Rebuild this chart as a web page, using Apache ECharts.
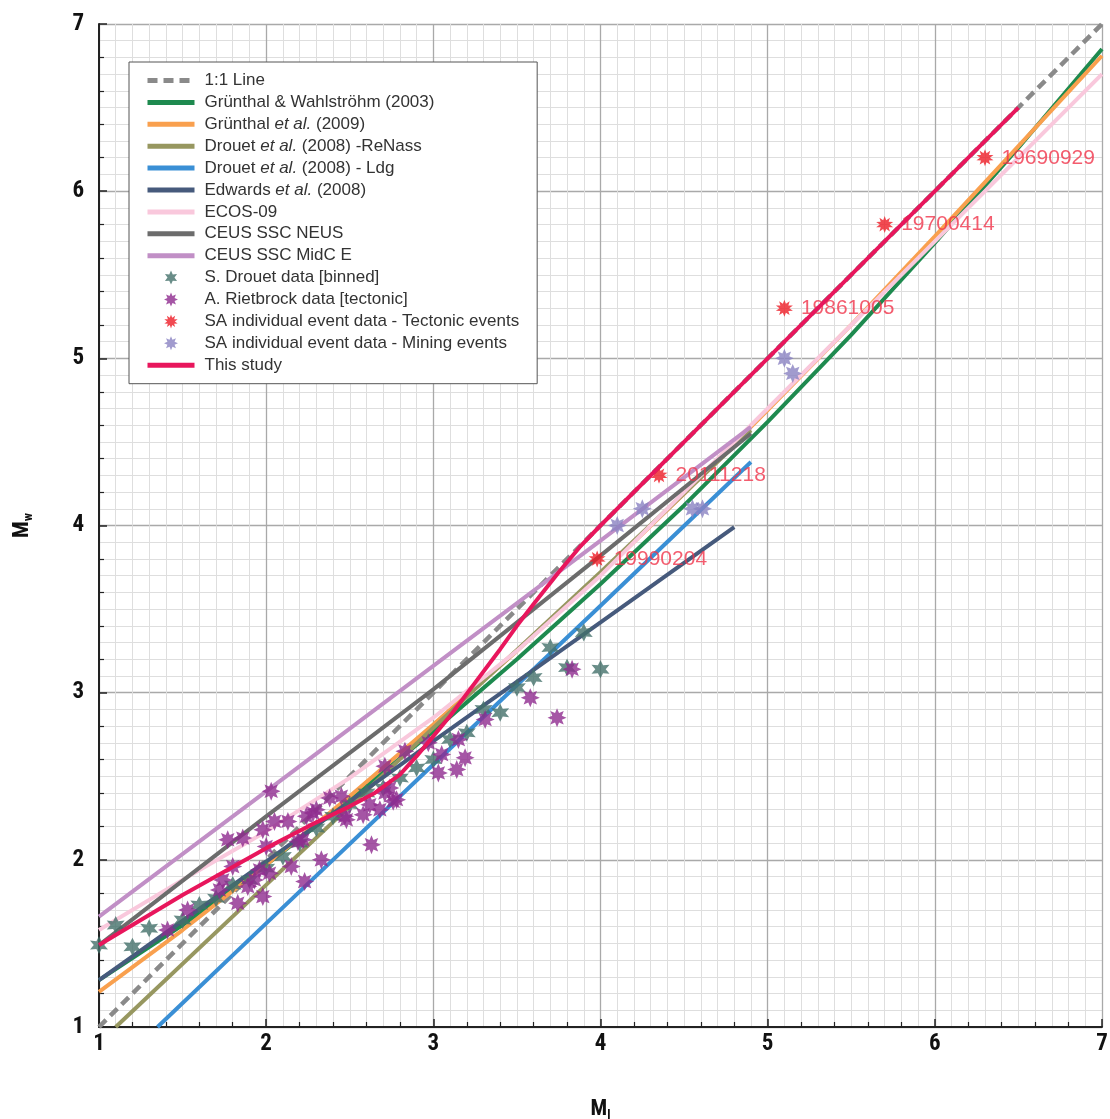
<!DOCTYPE html>
<html>
<head>
<meta charset="utf-8">
<script src="https://cdn.jsdelivr.net/npm/echarts@6/dist/echarts.min.js"></script>
<style>
html,body{margin:0;padding:0;background:#fff;}
#chart{width:1110px;height:1119px;}
</style>
</head>
<body>
<div id="chart"></div>
<script>
// ---------------- DATA ----------------
const xTickLabels = ['1','2','3','4','5','6','7'];
const yTickLabels = ['1','2','3','4','5','6','7'];

const oneToOne      = [[1,1],[7,7]];
const gw2003        = [[1,1.28],[1.5,1.61],[2,1.97],[2.5,2.36],[3,2.77],[3.5,3.20],[4,3.65],[4.5,4.12],[5,4.62],[5.5,5.14],[6,5.69],[6.5,6.26],[7,6.85]];
const grunthal2009  = [[1,1.21],[1.5,1.58],[2,1.97],[2.5,2.38],[3,2.81],[3.5,3.25],[4,3.71],[4.5,4.19],[5,4.69],[5.5,5.20],[6,5.73],[6.5,6.27],[7,6.81]];
const drouetReNass  = [[1.1,1.0],[2,1.85],[3,2.79],[4,3.72],[4.9,4.57]];
const drouetLdg     = [[1.35,1.0],[2,1.62],[3,2.57],[4,3.52],[4.9,4.38]];
const edwards2008   = [[1,1.28],[2,1.99],[3,2.71],[4,3.42],[4.8,3.99]];
const ecos09        = [[1,1.58],[1.5,1.88],[2,2.17],[2.5,2.49],[3,2.85],[3.5,3.25],[4,3.70],[5,4.70],[6,5.70],[7,6.70]];
const ceusNeus      = [[1,1.49],[2,2.26],[3,3.02],[4,3.82],[4.9,4.55]];
const ceusMidcE     = [[1,1.66],[2,2.41],[3,3.16],[4,3.91],[4.9,4.59]];
const thisStudy     = [[1,1.49],[1.5,1.79],[2,2.07],[2.25,2.20],[2.5,2.32],[2.65,2.40],[2.8,2.51],[2.9,2.62],[3,2.74],[3.1,2.86],[3.25,3.06],[3.4,3.26],[3.5,3.40],[3.6,3.53],[3.75,3.72],[3.875,3.87],[4,4.0],[5,5.0],[6,6.0],[6.5,6.5]];

const drouetX = [1.0,1.1,1.2,1.3,1.5,1.6,1.7,1.8,1.9,2.0,2.1,2.2,2.3,2.4,2.5,2.6,2.7,2.8,2.9,3.0,3.1,3.2,3.3,3.4,3.5,3.6,3.7,3.8,3.9,4.0];
const drouetY = [1.49,1.61,1.48,1.59,1.64,1.73,1.77,1.85,1.88,1.95,2.02,2.10,2.19,2.26,2.33,2.40,2.43,2.49,2.55,2.60,2.72,2.76,2.90,2.88,3.03,3.09,3.27,3.15,3.36,3.14];

const rietX = [1.41,1.53,1.72,1.74,1.77,1.80,1.83,1.86,1.89,1.93,1.96,1.98,1.98,2.00,2.02,2.03,2.05,2.13,2.15,2.19,2.22,2.23,2.24,2.28,2.30,2.33,2.38,2.45,2.47,2.48,2.58,2.62,2.63,2.68,2.71,2.71,2.74,2.76,2.78,2.83,2.97,3.03,3.05,3.14,3.15,3.19,3.31,3.58,3.74,3.83];
const rietY = [1.58,1.70,1.82,1.88,2.12,1.96,1.74,2.13,1.84,1.88,1.94,1.78,2.18,2.08,1.92,2.41,2.23,2.23,1.96,2.11,2.12,1.87,2.26,2.28,2.30,2.00,2.37,2.38,2.26,2.24,2.27,2.33,2.09,2.30,2.56,2.40,2.43,2.35,2.36,2.65,2.70,2.52,2.63,2.54,2.72,2.61,2.84,2.97,2.85,3.14];

const tectX = [6.30,5.70,5.10,4.35,3.98];
const tectY = [6.20,5.80,5.30,4.30,3.80];
const tectNames = ['19690929','19700414','19861005','20111218','19990204'];

const miningX = [4.10,4.25,4.55,4.61,5.10,5.15];
const miningY = [4.00,4.10,4.10,4.10,5.00,4.91];

const legendNames = ['1:1 Line','Grünthal & Wahlströhm (2003)','Grünthal et al. (2009)','Drouet et al. (2008) -ReNass',
  'Drouet et al. (2008) - Ldg','Edwards et al. (2008)','ECOS-09','CEUS SSC NEUS','CEUS SSC MidC E',
  'S. Drouet data [binned]','A. Rietbrock data [tectonic]','SA individual event data - Tectonic events',
  'SA individual event data - Mining events','This study'];

// ---------------- helpers ----------------
function zip(xs, ys){ return xs.map((x,i)=>[x, ys[i]]); }
function starPath(n, inner){
  const pts=[];
  for(let i=0;i<2*n;i++){
    const r = (i%2) ? inner : 1;
    const a = Math.PI*i/n - Math.PI/2;
    pts.push((100+100*r*Math.cos(a)).toFixed(2)+' '+(100+100*r*Math.sin(a)).toFixed(2));
  }
  return 'path://M'+pts.join(' L')+' Z';
}
const star6 = starPath(6, 0.5);
const star8 = starPath(8, 0.55);
const star10 = starPath(10, 0.55);

function lineSeries(name, data, color, extra){
  return Object.assign({
    name, type:'line', data, xAxisIndex:1, yAxisIndex:1,
    showSymbol:false, symbol:'none', smooth:false,
    lineStyle:{color, width:4}, itemStyle:{color:'rgba(0,0,0,0)'}, clip:true, z:2
  }, extra||{});
}

const chart = echarts.init(document.getElementById('chart'));
const labelFont = "'Liberation Sans Narrow','Arial Narrow','Roboto Condensed','Liberation Sans',Arial,sans-serif";
const legFont = "Arial, 'Liberation Sans', sans-serif";

const option = {
  backgroundColor:'#ffffff',
  animation:false,
  grid:{left:99, right:8, top:24, bottom:92, containLabel:false, outerBoundsMode:'none'},
  xAxis:[
    {
      type:'value', min:1, max:7, interval:0.1, position:'top',
      axisLabel:{show:false}, axisTick:{show:false}, axisLine:{show:false},
      splitLine:{show:true, lineStyle:{color:'#dedede', width:1}}
    },
    {
      type:'value', min:1, max:7, interval:1, position:'bottom',
      name:'M{s|l}', nameLocation:'middle', nameGap:70,
      nameTextStyle:{fontFamily:labelFont, fontWeight:'bold', fontSize:22, color:'#111',
        rich:{s:{fontFamily:labelFont, fontWeight:'bold', fontSize:13, color:'#111', verticalAlign:'bottom', padding:[12,0,0,0]}}},
      axisLine:{show:true, onZero:false, lineStyle:{color:'#222', width:2}},
      axisTick:{show:true, inside:true, length:8, lineStyle:{color:'#222', width:1.5}},
      minorTick:{show:true, splitNumber:5, length:5, lineStyle:{color:'#222', width:1.2}},
      minorSplitLine:{show:false},
      splitLine:{show:true, lineStyle:{color:'#a9a9a9', width:1.3}},
      axisLabel:{margin:6, fontFamily:labelFont, fontWeight:'bold', fontSize:23, color:'#111',
        formatter:(v)=>xTickLabels[Math.round(v)-1] || ''}
    }
  ],
  yAxis:[
    {
      type:'value', min:1, max:7, interval:0.1, position:'right',
      axisLabel:{show:false}, axisTick:{show:false}, axisLine:{show:false},
      splitLine:{show:true, lineStyle:{color:'#dedede', width:1}}
    },
    {
      type:'value', min:1, max:7, interval:1, position:'left',
      name:'M{s|w}', nameLocation:'middle', nameGap:64, nameRotate:90,
      nameTextStyle:{fontFamily:labelFont, fontWeight:'bold', fontSize:22, color:'#111',
        rich:{s:{fontFamily:labelFont, fontWeight:'bold', fontSize:13, color:'#111', verticalAlign:'bottom', padding:[12,0,0,0]}}},
      axisLine:{show:true, onZero:false, lineStyle:{color:'#222', width:2}},
      axisTick:{show:true, inside:true, length:8, lineStyle:{color:'#222', width:1.5}},
      minorTick:{show:true, splitNumber:5, length:5, lineStyle:{color:'#222', width:1.2}},
      minorSplitLine:{show:false},
      splitLine:{show:true, lineStyle:{color:'#a9a9a9', width:1.3}},
      axisLabel:{margin:15, fontFamily:labelFont, fontWeight:'bold', fontSize:23, color:'#111',
        formatter:(v)=>yTickLabels[Math.round(v)-1] || ''}
    }
  ],
  legend:{
    left:129, top:62, orient:'vertical',
    padding:[10,18,10,16],
    backgroundColor:'#ffffff', borderColor:'#555', borderWidth:1,
    itemWidth:47, itemHeight:14, itemGap:4.9,
    lineStyle:{width:5},
    textStyle:{fontFamily:legFont, fontSize:17, color:'#333', lineHeight:17,
      rich:{
        p:{width:5, lineHeight:17},
        n:{fontFamily:legFont, fontSize:17, color:'#333', lineHeight:17},
        i:{fontFamily:legFont, fontSize:17, color:'#333', fontStyle:'italic', lineHeight:17}
      }},
    formatter:(name)=>{
      const k = name.indexOf('et al.');
      if(k>=0){
        return '{p|}{n|'+name.slice(0,k)+'}{i|et al.}{n|'+name.slice(k+6)+'}';
      }
      return '{p|}{n|'+name+'}';
    },
    data:legendNames
  },
  series:[
    lineSeries('1:1 Line', oneToOne, '#8a8a8a', {lineStyle:{color:'#8a8a8a', width:4.5, type:[10,6]}}),
    lineSeries('Grünthal & Wahlströhm (2003)', gw2003, '#1e8a4f'),
    lineSeries('Grünthal et al. (2009)', grunthal2009, '#f9a04e'),
    lineSeries('Drouet et al. (2008) -ReNass', drouetReNass, '#979760'),
    lineSeries('Drouet et al. (2008) - Ldg', drouetLdg, '#3a8fd5'),
    lineSeries('Edwards et al. (2008)', edwards2008, '#465a7c'),
    lineSeries('ECOS-09', ecos09, '#f9c8dc'),
    lineSeries('CEUS SSC NEUS', ceusNeus, '#6c6c6c'),
    lineSeries('CEUS SSC MidC E', ceusMidcE, '#c18fc6'),
    {
      name:'S. Drouet data [binned]', type:'scatter', xAxisIndex:1, yAxisIndex:1,
      data:zip(drouetX, drouetY), symbol:star6, symbolSize:18,
      itemStyle:{color:'#43706a'}, z:3
    },
    {
      name:'A. Rietbrock data [tectonic]', type:'scatter', xAxisIndex:1, yAxisIndex:1,
      data:zip(rietX, rietY), symbol:star8, symbolSize:19,
      itemStyle:{color:'#8e2a8f'}, z:3
    },
    {
      name:'SA individual event data - Tectonic events', type:'scatter', xAxisIndex:1, yAxisIndex:1,
      data:tectX.map((x,i)=>({value:[x, tectY[i]], name:tectNames[i]})),
      symbol:star10, symbolSize:17,
      itemStyle:{color:'#ee1c25'}, z:4,
      label:{show:true, position:'right', distance:8, formatter:(p)=>p.name,
        fontFamily:legFont, fontSize:21, color:'#f0334a'}
    },
    {
      name:'SA individual event data - Mining events', type:'scatter', xAxisIndex:1, yAxisIndex:1,
      data:zip(miningX, miningY), symbol:star8, symbolSize:19,
      itemStyle:{color:'#8a82c2'}, z:3
    },
    lineSeries('This study', thisStudy, '#e8165c', {z:5})
  ]
};
chart.setOption(option);
</script>
</body>
</html>
